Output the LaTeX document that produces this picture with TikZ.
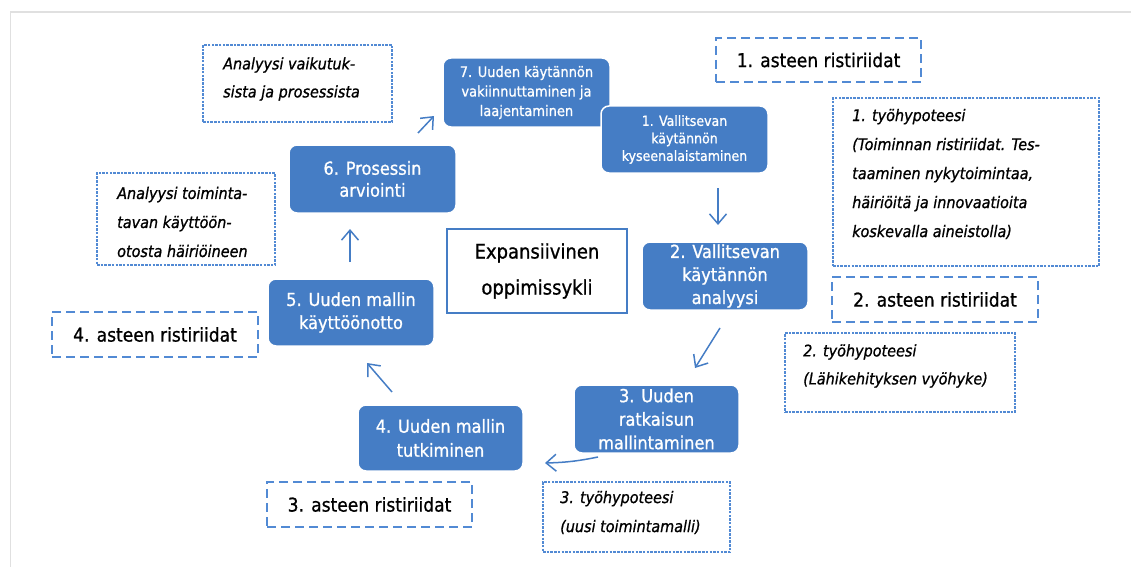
\documentclass[tikz,border=0pt]{standalone}
\usepackage{fontspec}
\setmainfont{DejaVu Sans Condensed}[
  UprightFeatures={FakeBold=0.9},
  ItalicFeatures={FakeBold=0.9}]
\usetikzlibrary{arrows.meta}

\definecolor{boxblue}{RGB}{69,125,197}
\definecolor{lineblue}{RGB}{82,138,212}
\definecolor{framegray}{RGB}{224,224,224}

\tikzset{
  stage/.style={fill=boxblue, draw=white, line width=1.5pt, rounded corners=8pt,
    text=white, align=center, inner sep=0pt},
  centrebox/.style={fill=white, draw=boxblue, line width=2pt, align=center, inner sep=0pt,
    font=\fontsize{20}{36}\selectfont},
  levelbox/.style={draw=lineblue, line width=2pt, dash pattern=on 9pt off 5pt,
    inner sep=0pt, font=\fontsize{19}{23}\selectfont},
  notebox/.style={draw=lineblue, line width=1.6pt, dash pattern=on 2.5pt off 1.2pt,
    inner sep=0pt},
  notetext/.style={align=left, inner sep=0pt, anchor=west},
  flow/.style={draw=boxblue, line width=1.5pt,
    -{Straight Barb[length=10pt,width=17pt,line width=1.5pt]}},
}

\begin{document}
\begin{tikzpicture}[x=1pt, y=-1pt]
\useasboundingbox (0,0) rectangle (1131,567);

% page frame
\draw[framegray, line width=1.5pt] (10.5,567) -- (10.5,12) -- (1131,12);

% cycle stages
\node[stage, minimum width=167pt, minimum height=69pt, font=\fontsize{14.5}{19.5}\selectfont]
  (b7) at (526.5,92.5) {7. Uuden käytännön\\vakiinnuttaminen ja\\laajentaminen};
\node[stage, minimum width=167pt, minimum height=67pt, font=\fontsize{14}{17.5}\selectfont]
  (b1) at (684.5,139.5) {1. Vallitsevan\\käytännön\\kyseenalaistaminen};
\node[stage, minimum width=166pt, minimum height=68pt, font=\fontsize{18}{23}\selectfont]
  (b2) at (725,276) {2. Vallitsevan\\käytännön\\analyysi};
\node[stage, minimum width=165pt, minimum height=68pt, font=\fontsize{18}{23.5}\selectfont]
  (b3) at (656.5,419) {3. Uuden\\ratkaisun\\mallintaminen};
\node[stage, minimum width=165pt, minimum height=66pt, font=\fontsize{18}{24}\selectfont]
  (b4) at (440.5,438) {4. Uuden mallin\\tutkiminen};
\node[stage, minimum width=166pt, minimum height=67pt, font=\fontsize{18}{23}\selectfont]
  (b5) at (351,312.5) {5. Uuden mallin\\käyttöönotto};
\node[stage, minimum width=167pt, minimum height=68pt, font=\fontsize{18}{22}\selectfont]
  (b6) at (372.5,179) {6. Prosessin\\arviointi};

% centre title
\node[centrebox, minimum width=180pt, minimum height=84pt] (title) at (537,271)
  {Expansiivinen\\oppimissykli};

% contradiction levels
\node[levelbox, minimum width=205pt, minimum height=44pt] (r1) at (818.5,60) {1. asteen ristiriidat};
\node[levelbox, minimum width=206pt, minimum height=45pt] (r2) at (935,299.5) {2. asteen ristiriidat};
\node[levelbox, minimum width=205pt, minimum height=45pt] (r3) at (369.5,504.5) {3. asteen ristiriidat};
\node[levelbox, minimum width=206pt, minimum height=45pt] (r4) at (155,334.5) {4. asteen ristiriidat};

% notes
\node[notebox, minimum width=189pt, minimum height=77pt] (n1) at (297.5,83.5) {};
\node[notetext, font=\itshape\fontsize{16}{28}\selectfont] (n1t) at (223,79)
  {Analyysi vaikutuk-\\sista ja prosessista};
\node[notebox, minimum width=178pt, minimum height=92pt] (n2) at (186,219) {};
\node[notetext, font=\itshape\fontsize{16}{29}\selectfont] (n2t) at (117,222)
  {Analyysi toiminta-\\tavan käyttöön-\\otosta häiriöineen};
\node[notebox, minimum width=266pt, minimum height=168pt] (h1) at (966,182) {};
\node[notetext, font=\itshape\fontsize{16}{29}\selectfont] (h1t) at (852,174)
  {1. työhypoteesi\\(Toiminnan ristiriidat. Tes-\\taaminen nykytoimintaa,\\häiriöitä ja innovaatioita\\koskevalla aineistolla)};
\node[notebox, minimum width=230pt, minimum height=79pt] (h2) at (900,372.5) {};
\node[notetext, font=\itshape\fontsize{16}{28}\selectfont] (h2t) at (803,366)
  {2. työhypoteesi\\(Lähikehityksen vyöhyke)};
\node[notebox, minimum width=187pt, minimum height=70pt] (h3) at (636.5,517) {};
\node[notetext, font=\itshape\fontsize{16}{29}\selectfont] (h3t) at (560,512.5)
  {3. työhypoteesi\\(uusi toimintamalli)};

% arrow end points
\coordinate (p1s) at (718,188);  \coordinate (p1e) at (718,225);
\coordinate (p2s) at (720,328);  \coordinate (p2e) at (695,368);
\coordinate (p3s) at (598,457);  \coordinate (p3e) at (545,463);
\coordinate (p4s) at (392,392);  \coordinate (p4e) at (367,363);
\coordinate (p5s) at (350,262);  \coordinate (p5e) at (350,229);
\coordinate (p6s) at (418,133);  \coordinate (p6e) at (434,116);

\draw[flow] (p1s) -- (p1e);
\draw[flow] (p2s) -- (p2e);
\draw[flow] (p3s) to[bend left=5] (p3e);
\draw[flow] (p4s) -- (p4e);
\draw[flow] (p5s) -- (p5e);
\draw[flow] (p6s) -- (p6e);
\end{tikzpicture}
\end{document}
